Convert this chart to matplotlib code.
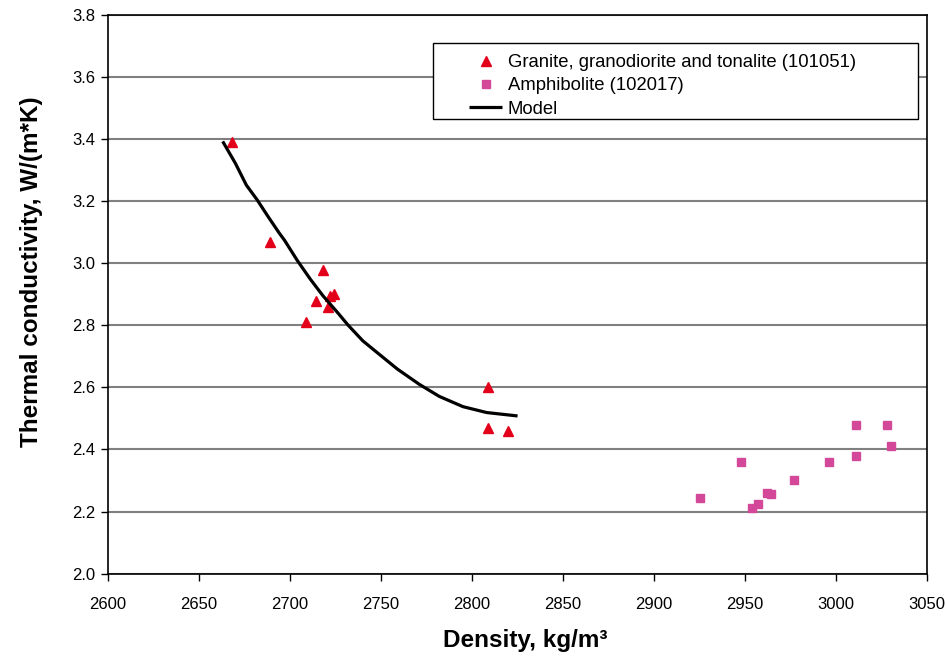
import matplotlib
matplotlib.use('Agg')
import matplotlib.pyplot as plt
from matplotlib.patches import Rectangle
from matplotlib.ticker import FormatStrFormatter

plt.rcParams.update({
    'font.family': ['Liberation Sans', 'DejaVu Sans'],
    'font.size': 12,
})

# Granite, granodiorite and tonalite samples (density kg/m3, conductivity W/(m*K))
granite_density = [2668, 2689, 2709, 2714, 2718, 2721, 2722, 2724, 2809, 2809, 2820]
granite_cond = [3.39, 3.07, 2.81, 2.88, 2.98, 2.86, 2.895, 2.90, 2.60, 2.47, 2.46]

# Amphibolite samples
amph_density = [2925, 2948, 2954, 2957, 2962, 2964, 2977, 2996, 3011, 3011, 3028, 3030]
amph_cond = [2.245, 2.36, 2.21, 2.225, 2.26, 2.255, 2.30, 2.36, 2.48, 2.38, 2.48, 2.41]

# Model curve
model_density = [2663, 2670, 2676, 2682, 2688, 2694, 2697, 2704, 2711, 2718,
                 2726, 2732, 2740, 2750, 2759, 2771, 2782, 2795, 2808, 2825]
model_cond = [3.393, 3.322, 3.252, 3.204, 3.150, 3.098, 3.074, 3.009, 2.950, 2.896,
              2.842, 2.800, 2.750, 2.702, 2.659, 2.610, 2.571, 2.538, 2.519, 2.508]

fig = plt.figure(figsize=(9.46, 6.57), dpi=100)
ax = fig.add_axes([0.1142, 0.127, 0.8658, 0.850])

ax.plot(granite_density, granite_cond, linestyle='none', marker='^', markersize=7.5,
        color='#E3001B', label='Granite, granodiorite and tonalite (101051)')
ax.plot(amph_density, amph_cond, linestyle='none', marker='s', markersize=5.5,
        color='#D4489A', label='Amphibolite (102017)')
ax.plot(model_density, model_cond, color='black', linewidth=2.3,
        solid_joinstyle='round', solid_capstyle='butt', label='Model')

ax.set_xlim(2600, 3050)
ax.set_ylim(2.0, 3.8)
ax.set_xticks(range(2600, 3051, 50))
ax.set_yticks([2.0 + 0.2 * i for i in range(10)])
ax.yaxis.set_major_formatter(FormatStrFormatter('%.1f'))
ax.tick_params(direction='out', length=5, width=1, labelsize=12)
ax.tick_params(axis='x', pad=12)
ax.tick_params(axis='y', pad=4)
ax.grid(axis='y', color='#808080', linewidth=1.5)
ax.set_axisbelow(True)
for side in ax.spines.values():
    side.set_color('black')
    side.set_linewidth(1.2)

ax.set_xlabel('Density, kg/m³', fontsize=17.5, fontweight='bold', labelpad=12)
ax.set_ylabel('Thermal conductivity, W/(m*K)', fontsize=17.5, fontweight='bold', labelpad=21)
ax.xaxis.label.set_x(0.509)
ax.yaxis.label.set_y(0.54)

# legend box drawn separately so the entries can sit inset from its left edge
ax.add_patch(Rectangle((0.3968, 0.8138), 0.5922, 0.1361, transform=ax.transAxes,
                       facecolor='white', edgecolor='black', linewidth=1, zorder=4))
leg = ax.legend(loc='upper left', bbox_to_anchor=(0.4408, 0.930), frameon=False,
                fontsize=13.3, handlelength=1.8, borderpad=0, labelspacing=0.34,
                handletextpad=0.3, borderaxespad=0)
leg.set_zorder(5)

fig.savefig('out.png', dpi=100)
